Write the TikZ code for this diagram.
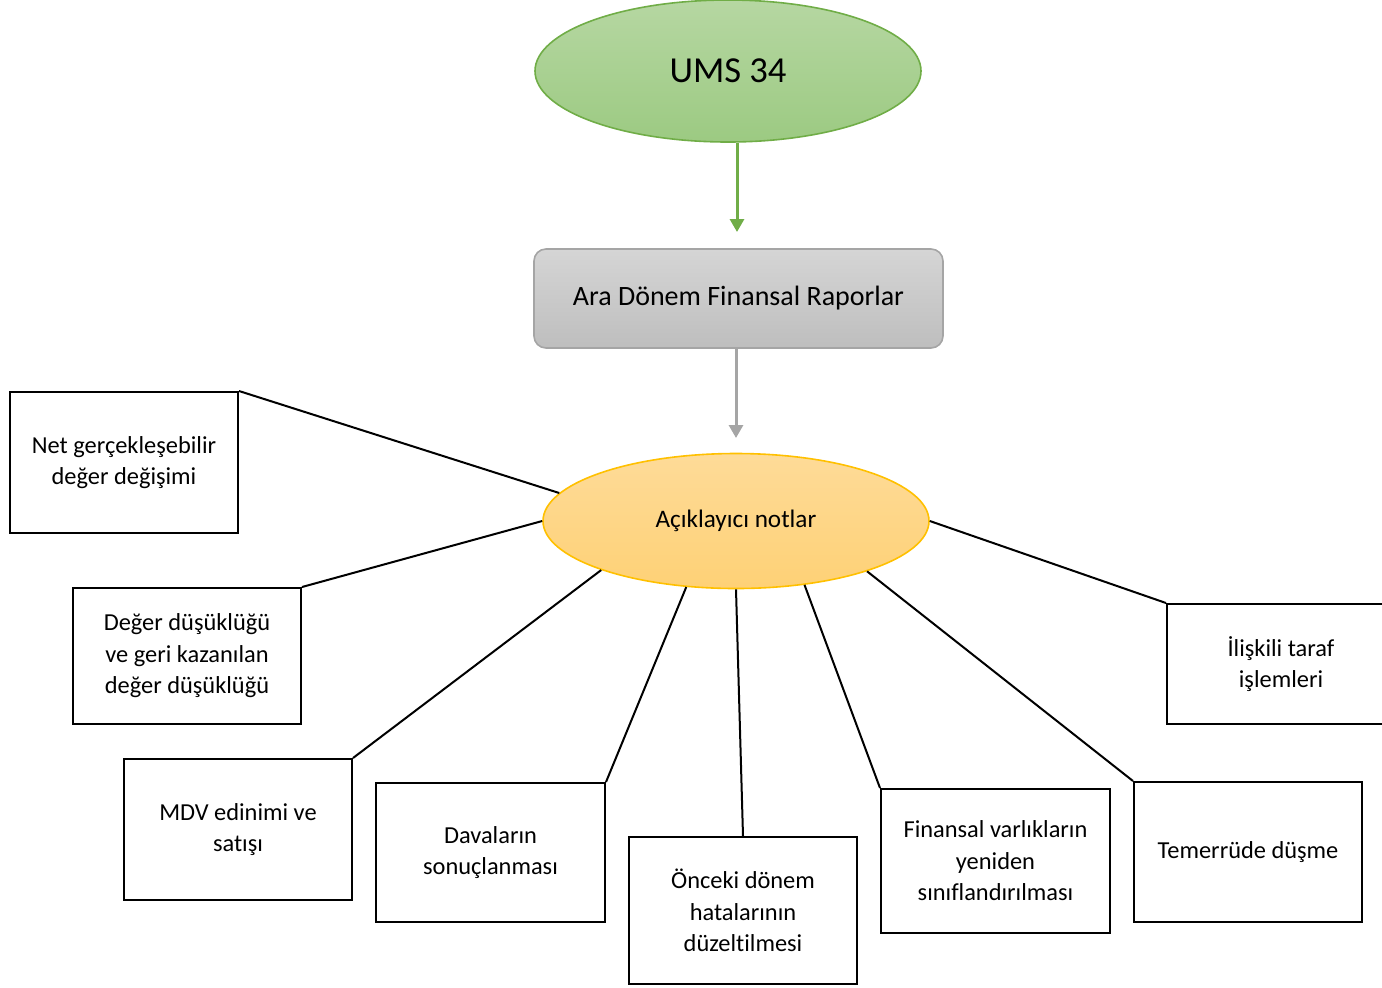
\documentclass[tikz,border=0pt]{standalone}
\usepackage{fontspec}
\setmainfont{Carlito}[Ligatures=NoCommon]
\usetikzlibrary{shapes.geometric,arrows.meta}
\definecolor{gtop}{RGB}{182,215,162}
\definecolor{gbot}{RGB}{156,202,130}
\definecolor{gline}{RGB}{112,173,71}
\definecolor{stop}{RGB}{213,213,213}
\definecolor{sbot}{RGB}{190,190,190}
\definecolor{sline}{RGB}{165,165,165}
\definecolor{otop}{RGB}{254,219,152}
\definecolor{obot}{RGB}{254,209,118}
\definecolor{oline}{RGB}{255,192,0}
\tikzset{
  notebox/.style={draw=black, line width=1pt, fill=white, rectangle, minimum width=114pt,
    align=center, inner sep=0pt, font=\fontsize{12.2}{15.7}\selectfont},
  link/.style={draw=black, line width=1pt},
  arr/.style={line width=1.5pt, -{Triangle[length=6.5pt,width=7pt]}},
}
\begin{document}
\begin{tikzpicture}[x=0.5pt,y=-0.5pt]
\useasboundingbox (0,0) rectangle (1382,987);
\clip (0,0) rectangle (1382,987);
% top ellipse
\node[ellipse, draw=gline, line width=0.8pt, top color=gtop, bottom color=gbot,
  minimum width=193pt, minimum height=71pt, inner sep=0pt,
  font=\fontsize{18.3}{22}\selectfont] (ums) at (728,71) {UMS 34};
% gray box
\node[rectangle, rounded corners=6pt, draw=sline, line width=0.8pt, top color=stop, bottom color=sbot,
  minimum width=204.5pt, minimum height=49.5pt, inner sep=0pt,
  font=\fontsize{14}{17}\selectfont] (ara) at (738.5,298.5) {Ara Dönem Finansal Raporlar};
% center ellipse
\node[ellipse, draw=oline, line width=0.8pt, top color=otop, bottom color=obot,
  minimum width=193pt, minimum height=67.5pt, inner sep=0pt,
  font=\fontsize{12.6}{15}\selectfont] (ac) at (736,521) {Açıklayıcı notlar};
% arrows
\coordinate (a1) at (737,232);
\coordinate (a2) at (736,438);
\draw[arr, gline] (ums.south -| a1) -- (a1);
\draw[arr, sline] (ara.south -| a2) -- (a2);
% boxes
\node[notebox, minimum height=70.5pt] (b1) at (124,462.5) {Net gerçekleşebilir\\değer değişimi};
\node[notebox, minimum height=68pt] (b2) at (187,656) {Değer düşüklüğü\\ve geri kazanılan\\değer düşüklüğü};
\node[notebox, minimum height=70.5pt] (b3) at (238,829.5) {MDV edinimi ve\\satışı};
\node[notebox, minimum height=69.5pt, minimum width=114.5pt] (b4) at (490.5,852.5) {Davaların\\sonuçlanması};
\node[notebox, minimum height=73.5pt] (b5) at (743,910.5) {Önceki dönem\\hatalarının\\düzeltilmesi};
\node[notebox, minimum height=72pt, minimum width=114.5pt] (b6) at (995.5,861) {Finansal varlıkların\\yeniden\\sınıflandırılması};
\node[notebox, minimum height=70pt] (b7) at (1248,852) {Temerrüde düşme};
\node[notebox, minimum height=60pt] (b8) at (1281,664) {İlişkili taraf\\işlemleri};
% connectors
\draw[link] (b1.north east) -- (ac.171);
\draw[link] (b2.north east) -- (ac.180.5);
\draw[link] (b3.north east) -- (ac.200);
\draw[link] (b4.north east) -- (ac.233.6);
\draw[link] (b5.north) -- (ac.270);
\draw[link] (b6.north west) -- (ac.317.9);
\draw[link] (b7.north west) -- (ac.339.3);
\draw[link] (b8.north west) -- (ac.0);
\end{tikzpicture}
\end{document}
